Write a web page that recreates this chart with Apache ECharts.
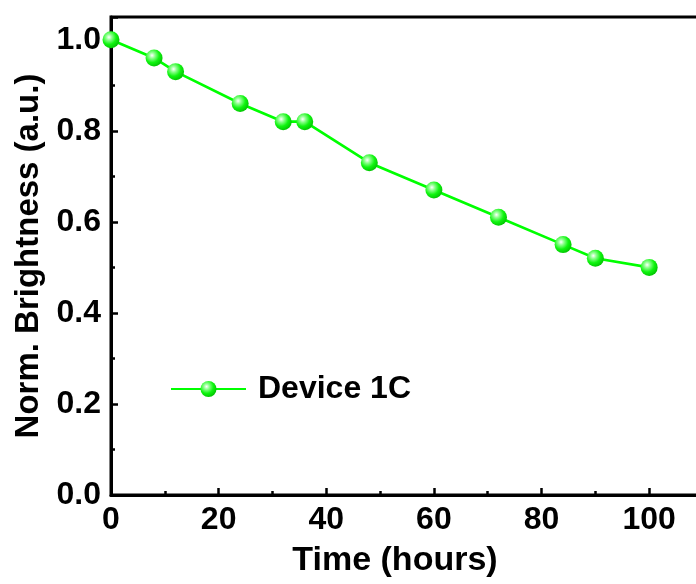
<!DOCTYPE html>
<html>
<head>
<meta charset="utf-8">
<script src="https://cdn.jsdelivr.net/npm/echarts@6/dist/echarts.min.js"></script>
<style>html,body{margin:0;padding:0;background:#fff}#c{width:696px;height:584px}</style>
</head>
<body>
<div id="c"></div>
<script>
var timeHours = [0, 8, 12, 24, 32, 36, 48, 60, 72, 84, 90, 100];
var brightness = [1.0, 0.96, 0.93, 0.86, 0.82, 0.82, 0.73, 0.67, 0.61, 0.55, 0.52, 0.50];
var seriesName = 'Device 1C';
var xTitle = 'Time (hours)';
var yTitle = 'Norm. Brightness (a.u.)';

var FONT = 'Liberation Sans, Arial, sans-serif';
var chart = echarts.init(document.getElementById('c'), null, {renderer: 'canvas'});
var sphere = new echarts.graphic.RadialGradient(0.38, 0.35, 0.7, [
  {offset: 0, color: '#ffffff'},
  {offset: 0.25, color: '#8dff8d'},
  {offset: 0.6, color: '#10f510'},
  {offset: 1, color: '#00c000'}
]);
chart.setOption({
  animation: false,
  backgroundColor: '#fff',
  grid: {left: 111, right: -7, top: 17, bottom: 89, show: true, borderColor: '#000', borderWidth: 3,
    containLabel: false, outerBoundsMode: 'none'},
  legend: {
    left: 170, top: 373, padding: 0, itemWidth: 75, itemHeight: 20, itemGap: 10,
    textStyle: {fontFamily: FONT, fontWeight: 'bold', fontSize: 32, color: '#000', padding: [0, 0, 0, 7]},
    data: [seriesName]
  },
  xAxis: {
    type: 'value', min: 0, max: 110, interval: 20,
    name: xTitle, nameLocation: 'middle', nameGap: 49,
    nameTextStyle: {fontFamily: FONT, fontWeight: 'bold', fontSize: 34, color: '#000', padding: [0, 24, 0, 0]},
    axisLine: {show: true, lineStyle: {color: '#000', width: 3}},
    axisTick: {show: true, inside: true, length: 7, lineStyle: {color: '#000', width: 2.5}},
    minorTick: {show: true, splitNumber: 2, length: 4, lineStyle: {color: '#000', width: 2.5}},
    axisLabel: {fontFamily: FONT, fontWeight: 'bold', fontSize: 32, color: '#000', margin: 9,
      formatter: function (v) { return v > 100 ? '' : String(v); }},
    splitLine: {show: false}
  },
  yAxis: {
    type: 'value', min: 0, max: 1.05, interval: 0.2,
    name: yTitle, nameLocation: 'middle', nameGap: 63, nameRotate: 90,
    nameTextStyle: {fontFamily: FONT, fontWeight: 'bold', fontSize: 33, color: '#000'},
    axisLine: {show: true, lineStyle: {color: '#000', width: 3}},
    axisTick: {show: true, inside: true, length: 7, lineStyle: {color: '#000', width: 2.5}},
    minorTick: {show: true, splitNumber: 2, length: 4, lineStyle: {color: '#000', width: 2.5}},
    axisLabel: {fontFamily: FONT, fontWeight: 'bold', fontSize: 32, color: '#000', margin: 10,
      formatter: function (v) { return v.toFixed(1); }},
    splitLine: {show: false}
  },
  series: [{
    name: seriesName, type: 'line',
    data: timeHours.map(function (t, i) { return [t, brightness[i]]; }),
    symbol: 'circle', symbolSize: 17, showAllSymbol: true,
    lineStyle: {color: '#00ff00', width: 2.7},
    itemStyle: {color: sphere, borderWidth: 0},
    clip: true, z: 1
  }]
});
</script>
</body>
</html>
